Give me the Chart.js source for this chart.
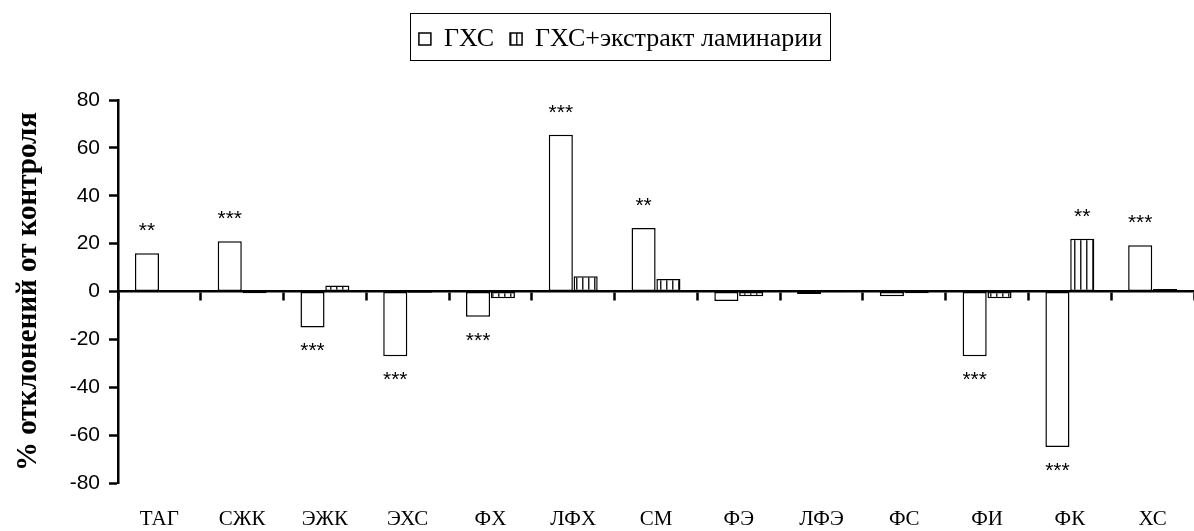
<!DOCTYPE html>
<html>
<head>
<meta charset="utf-8">
<script src="https://cdn.jsdelivr.net/npm/chart.js@4.4.1/dist/chart.umd.min.js"></script>
<style>
  body { margin: 0; background: #fff; }
</style>
</head>
<body>
<canvas id="chart" width="1194" height="531"></canvas>
<script>
(() => {

  // Data
  const categories = ['ТАГ', 'СЖК', 'ЭЖК', 'ЭХС', 'ФХ', 'ЛФХ', 'СМ', 'ФЭ', 'ЛФЭ', 'ФС', 'ФИ', 'ФК', 'ХС'];
  const gxc = [16, 21, -15, -27, -10.5, 65.5, 26.5, -4, -1, -2, -27, -65, 19.3];
  const gxcLam = [0.5, -0.7, 2.5, -0.5, -2.8, 6.4, 5.2, -2, -0.3, -0.7, -2.8, 22, 1];
  const sigGxc = ['**', '***', '***', '***', '***', '***', '**', '', '', '', '***', '***', '***'];
  const sigLam = ['', '', '', '', '', '', '', '', '', '', '', '**', ''];
  const yMin = -80;
  const yMax = 80;
  const yStep = 20;

  const ctx = document.querySelector('#chart');

  // vertical stripes for the second series
  const stripeCanvas = document.createElement('canvas');
  stripeCanvas.width = 6;
  stripeCanvas.height = 6;
  const sc = stripeCanvas.getContext('2d');
  sc.fillStyle = '#fff';
  sc.fillRect(0, 0, 6, 6);
  sc.fillStyle = '#222';
  sc.fillRect(0, 0, 1.5, 6);
  const stripes = sc.createPattern(stripeCanvas, 'repeat');

  const sigByDataset = [sigGxc, sigLam];

  // stars over / under bars
  const starsPlugin = {
    id: 'stars',
    afterDatasetsDraw(chart) {
      const c = chart.ctx;
      c.save();
      c.font = '21px "Liberation Sans", Arial, sans-serif';
      c.fillStyle = '#000';
      c.textAlign = 'center';
      c.textBaseline = 'alphabetic';
      chart.data.datasets.forEach((ds, i) => {
        const meta = chart.getDatasetMeta(i);
        const marks = sigByDataset[i];
        meta.data.forEach((bar, j) => {
          if (!marks[j]) return;
          const y = ds.data[j] >= 0 ? bar.y - 28 : bar.y + 18;
          c.fillText(marks[j], bar.x, y + 12);
        });
      });
      c.restore();
    }
  };

  // legend frame + legend shift
  const legendFrame = {
    id: 'legendFrame',
    afterLayout(chart) {
      const lg = chart.legend;
      lg.left += 22;
      lg.right += 22;
    },
    afterDraw(chart) {
      const hb = chart.legend.legendHitBoxes;
      if (!hb || !hb.length) return;
      const first = hb[0];
      const last = hb[hb.length - 1];
      const cy = first.top + first.height / 2;
      const c = chart.ctx;
      c.save();
      c.strokeStyle = '#000';
      c.lineWidth = 1;
      c.strokeRect(Math.round(first.left - 9) + 0.5, Math.round(cy - 26) + 0.5,
        Math.round(last.left + last.width - first.left + 17), 47);
      c.restore();
    }
  };

  new Chart(ctx, {
    type: 'bar',
    data: {
      labels: categories,
      datasets: [
        {
          label: 'ГХС',
          data: gxc,
          backgroundColor: '#fff',
          borderColor: '#000',
          borderWidth: 1.5,
          borderSkipped: false
        },
        {
          label: 'ГХС+экстракт ламинарии',
          data: gxcLam,
          backgroundColor: stripes,
          borderColor: '#000',
          borderWidth: 1.5,
          borderSkipped: false
        }
      ]
    },
    options: {
      responsive: false,
      animation: false,
      layout: { padding: { top: 10, right: -3, bottom: 0, left: 0 } },
      datasets: { bar: { categoryPercentage: 0.6, barPercentage: 0.97 } },
      plugins: {
        legend: {
          position: 'top',
          labels: {
            font: { family: '"Liberation Serif", "Times New Roman", serif', size: 26 },
            color: '#000',
            boxWidth: 12,
            boxHeight: 12,
            padding: 16
          }
        },
        tooltip: { enabled: false }
      },
      scales: {
        x: {
          grid: { display: false, drawTicks: false },
          border: { display: false },
          ticks: {
            font: { family: '"Liberation Serif", "Times New Roman", serif', size: 21 },
            color: '#000',
            padding: 24,
            maxRotation: 0,
            autoSkip: false
          },
          afterFit: (s) => { s.height = 48; }
        },
        xZero: {
          type: 'category',
          position: { y: 0 },
          grid: { drawOnChartArea: false, tickLength: 8, tickWidth: 2.5, color: '#000' },
          border: { color: '#000', width: 2.5 },
          ticks: { display: false }
        },
        xTop: {
          type: 'category',
          position: 'top',
          grid: { display: false, drawTicks: false },
          border: { display: false },
          ticks: { display: false },
          afterFit: (s) => { s.height = 38; }
        },
        y: {
          min: yMin,
          max: yMax,
          ticks: {
            stepSize: yStep,
            font: { family: '"Liberation Sans", Arial, sans-serif', size: 21 },
            color: '#000',
            padding: 9
          },
          grid: { drawOnChartArea: false, tickLength: 9, tickWidth: 2.5, color: '#000' },
          border: { color: '#000', width: 2.5 },
          title: {
            display: true,
            text: '% отклонений от контроля',
            font: { family: '"Liberation Serif", "Times New Roman", serif', size: 29, weight: 'bold' },
            color: '#000',
            padding: { top: 11, bottom: 0 }
          },
          afterFit: (s) => { s.width = 118; }
        }
      }
    },
    plugins: [starsPlugin, legendFrame]
  });

})();
</script>
</body>
</html>
